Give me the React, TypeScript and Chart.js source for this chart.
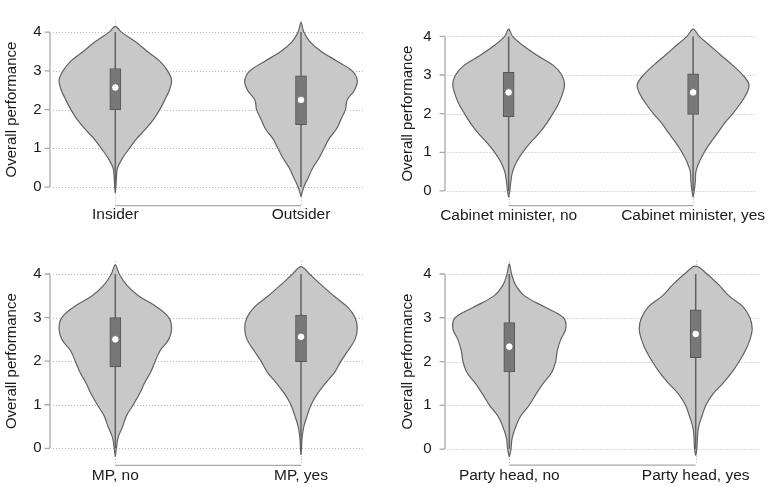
import React, { useEffect, useRef } from 'react';
import { Chart, registerables } from 'chart.js';

Chart.register(...registerables);

// ---------- data ----------
const LEVELS = [0, 0.25, 0.5, 0.75, 1, 1.25, 1.5, 1.75, 2, 2.25, 2.5, 2.75, 3, 3.25, 3.5, 3.75, 4];
const yTickValues = [0, 1, 2, 3, 4];
const Y_TITLE = 'Overall performance';

// Panel 1
const cats1 = ['Insider', 'Outsider'];
const dens1a = [1, 2, 4, 13, 25, 38, 54, 68, 79, 88, 96, 100, 93, 79, 57, 36, 11];
const dens1b = [5, 13, 21, 32, 41, 50, 63, 71, 79, 82, 95, 100, 91, 64, 36, 16, 5];
const tips1a = [-0.16, 4.15];
const tips1b = [-0.25, 4.25];
const q1_1 = [1.99, 1.61];
const med1 = [2.57, 2.25];
const q3_1 = [3.06, 2.87];

// Panel 2
const cats2 = ['Cabinet minister, no', 'Cabinet minister, yes'];
const dens2a = [2, 4, 7, 14, 25, 39, 55, 68, 79, 89, 96, 100, 95, 80, 52, 27, 7];
const dens2b = [2, 4, 5, 11, 20, 31, 44, 56, 71, 84, 95, 100, 89, 71, 51, 31, 11];
const tips2a = [-0.17, 4.19];
const tips2b = [-0.17, 4.19];
const q1_2 = [1.92, 1.98];
const med2 = [2.55, 2.55];
const q3_2 = [3.07, 3.03];

// Panel 3
const cats3 = ['MP, no', 'MP, yes'];
const dens3a = [2, 5, 13, 20, 32, 43, 52, 63, 71, 80, 95, 100, 95, 73, 41, 20, 7];
const dens3b = [1, 2, 5, 11, 18, 29, 44, 60, 71, 84, 96, 100, 96, 82, 58, 36, 15];
const tips3a = [-0.19, 4.21];
const tips3b = [-0.15, 4.17];
const q1_3 = [1.87, 1.99];
const med3 = [2.5, 2.56];
const q3_3 = [3.0, 3.06];

// Panel 4
const cats4 = ['Party head, no', 'Party head, yes'];
const dens4a = [3, 5, 11, 20, 35, 47, 60, 75, 82, 85, 91, 100, 96, 62, 27, 11, 4];
const dens4b = [2, 3, 5, 11, 18, 30, 48, 64, 77, 88, 96, 100, 96, 84, 59, 41, 20];
const tips4a = [-0.18, 4.23];
const tips4b = [-0.15, 4.18];
const q1_4 = [1.76, 2.09];
const med4 = [2.34, 2.63];
const q3_4 = [2.89, 3.18];

const whiskerLow = [0, 0];
const whiskerHigh = [4, 4];

// ---------- styles / layout ----------
const FONT = '"Liberation Sans", Arial, Helvetica, sans-serif';
const TEXT = '#1a1a1a';
const VIOLIN_FILL = '#c8c8c8';
const VIOLIN_LINE = '#626262';
const BOX_FILL = '#787878';
const BOX_LINE = '#555555';
const GRID = '#b5b5b5';
const AXIS = '#a9a9a9';
const Y_MIN = -0.3;
const Y_MAX = 4.3;
const MAX_HALF_WIDTH = 0.303; // x-units at density 100

type Panel = {
  left: number; top: number; w: number; h: number;
  y0: number; y4: number; axisX: number; gridLeft: number; gridRight: number;
  cat1: number; cat2: number; axisLineY: number; labelCY: number; tickRight: number; titleCX: number;
  cats: string[]; dens: number[][]; tips: number[][]; q1: number[]; med: number[]; q3: number[];
};

const panels: Panel[] = [
  { left: 0, top: 0, w: 385, h: 235, y0: 186, y4: 16.7, axisX: 50, gridLeft: 53, gridRight: 363,
    cat1: 115.3, cat2: 301, axisLineY: 205.7, labelCY: 215, tickRight: 41.5, titleCX: 12.3,
    cats: cats1, dens: [dens1a, dens1b], tips: [tips1a, tips1b], q1: q1_1, med: med1, q3: q3_1 },
  { left: 385, top: 0, w: 386, h: 235, y0: 189.3, y4: 13.3, axisX: 60, gridLeft: 62.5, gridRight: 375,
    cat1: 124.3, cat2: 310.7, axisLineY: 205.7, labelCY: 215.5, tickRight: 46.7, titleCX: 23,
    cats: cats2, dens: [dens2a, dens2b], tips: [tips2a, tips2b], q1: q1_2, med: med2, q3: q3_2 },
  { left: 0, top: 235, w: 385, h: 252, y0: 213.3, y4: 39, axisX: 50, gridLeft: 53, gridRight: 363,
    cat1: 115.3, cat2: 301, axisLineY: 230.3, labelCY: 240.5, tickRight: 41.5, titleCX: 12.3,
    cats: cats3, dens: [dens3a, dens3b], tips: [tips3a, tips3b], q1: q1_3, med: med3, q3: q3_3 },
  { left: 385, top: 235, w: 386, h: 252, y0: 214.3, y4: 39, axisX: 60, gridLeft: 62.5, gridRight: 375,
    cat1: 124.3, cat2: 310.7, axisLineY: 230.3, labelCY: 240.5, tickRight: 46.7, titleCX: 23,
    cats: cats4, dens: [dens4a, dens4b], tips: [tips4a, tips4b], q1: q1_4, med: med4, q3: q3_4 },
];

const stataAxes = {
  id: 'stataAxes',
  beforeDatasetsDraw(chart: any, _args: any, opts: any) {
    const { ctx, chartArea, scales } = chart;
    const x = scales.x;
    const y = scales.y;
    const axisY = chartArea.bottom + opts.axisDrop;
    ctx.save();
    ctx.lineWidth = 1;
    ctx.strokeStyle = GRID;
    ctx.setLineDash([1, 2]);
    for (const t of y.ticks) {
      const py = Math.round(y.getPixelForValue(t.value)) + 0.5;
      ctx.beginPath();
      ctx.moveTo(chartArea.left, py);
      ctx.lineTo(chartArea.right, py);
      ctx.stroke();
    }
    for (const t of x.ticks) {
      const px = Math.round(x.getPixelForValue(t.value)) + 0.5;
      ctx.beginPath();
      ctx.moveTo(px, chartArea.top);
      ctx.lineTo(px, axisY);
      ctx.stroke();
    }
    ctx.setLineDash([]);
    ctx.strokeStyle = AXIS;
    ctx.lineWidth = 1.3;
    const ax = chartArea.left - opts.axisGap;
    const vals = y.ticks.map((t: any) => t.value);
    ctx.beginPath();
    ctx.moveTo(ax, y.getPixelForValue(Math.min(...vals)));
    ctx.lineTo(ax, y.getPixelForValue(Math.max(...vals)));
    for (const v of vals) {
      const py = y.getPixelForValue(v);
      ctx.moveTo(ax - 5.5, py);
      ctx.lineTo(ax, py);
    }
    ctx.stroke();
    const xv = x.ticks.map((t: any) => t.value);
    ctx.beginPath();
    ctx.moveTo(x.getPixelForValue(Math.min(...xv)), axisY);
    ctx.lineTo(x.getPixelForValue(Math.max(...xv)), axisY);
    ctx.stroke();
    ctx.restore();
  },
};

function violinPoints(center: number, dens: number[], tips: number[]) {
  const right = LEVELS.map((lv, i) => ({ x: center + (dens[i] / 100) * MAX_HALF_WIDTH, y: lv }));
  const left = LEVELS.map((lv, i) => ({ x: center - (dens[i] / 100) * MAX_HALF_WIDTH, y: lv })).reverse();
  return [{ x: center, y: tips[0] }, ...right, { x: center, y: tips[1] }, ...left, { x: center, y: tips[0] }];
}

function ViolinPanel({ p }: { p: Panel }) {
  const ref = useRef<HTMLCanvasElement>(null);
  useEffect(() => {
    if (!ref.current) return;
    const unit = (p.y0 - p.y4) / 4;
    const chartTop = p.y4 - (Y_MAX - 4) * unit;
    const chartBottom = p.y0 - Y_MIN * unit;
    const pxPerX = p.cat2 - p.cat1;
    const xMin = 1 - (p.cat1 - p.gridLeft) / pxPerX;
    const xMax = 2 + (p.gridRight - p.cat2) / pxPerX;
    const xPad = p.labelCY - 9.3 - chartBottom;

    const datasets: any[] = [];
    p.cats.forEach((_c, i) => {
      const cx = i + 1;
      datasets.push({
        type: 'line',
        data: violinPoints(cx, p.dens[i], p.tips[i]),
        borderColor: VIOLIN_LINE,
        borderWidth: 1.2,
        backgroundColor: VIOLIN_FILL,
        fill: 'shape',
        tension: 0.35,
        pointRadius: 0,
        order: 4,
      });
      datasets.push({
        type: 'line',
        data: [{ x: cx, y: whiskerLow[i] }, { x: cx, y: whiskerHigh[i] }],
        borderColor: VIOLIN_LINE,
        borderWidth: 1.5,
        fill: false,
        pointRadius: 0,
        order: 3,
      });
    });
    datasets.push({
      type: 'bar',
      data: p.cats.map((_c, i) => ({ x: i + 1, y: [p.q1[i], p.q3[i]] })),
      backgroundColor: BOX_FILL,
      borderColor: BOX_LINE,
      borderWidth: 1,
      borderSkipped: false,
      barThickness: 11,
      order: 2,
    });
    datasets.push({
      type: 'scatter',
      data: p.cats.map((_c, i) => ({ x: i + 1, y: p.med[i] })),
      pointRadius: 3.8,
      pointBackgroundColor: '#ffffff',
      pointBorderColor: '#5a5a5a',
      pointBorderWidth: 0.8,
      order: 1,
    });

    const chart = new Chart(ref.current, {
      type: 'scatter',
      data: { datasets },
      plugins: [stataAxes],
      options: {
        animation: false,
        responsive: false,
        events: [],
        layout: { padding: { top: chartTop, right: p.w - p.gridRight, left: 0, bottom: 0 } },
        plugins: {
          legend: { display: false },
          tooltip: { enabled: false },
          stataAxes: { axisGap: p.gridLeft - p.axisX, axisDrop: p.axisLineY - chartBottom },
        } as any,
        scales: {
          x: {
            type: 'linear',
            min: xMin,
            max: xMax,
            offset: false,
            grid: { display: false, offset: false, drawTicks: false },
            border: { display: false },
            afterBuildTicks: (s: any) => { s.ticks = [{ value: 1 }, { value: 2 }]; },
            afterFit: (s: any) => { s.height = p.h - chartBottom; },
            ticks: {
              autoSkip: false,
              maxRotation: 0,
              padding: xPad,
              color: TEXT,
              font: { family: FONT, size: 15.5 },
              callback: (_v: any, idx: number) => p.cats[idx],
            },
          },
          y: {
            type: 'linear',
            min: Y_MIN,
            max: Y_MAX,
            beginAtZero: false,
            grid: { display: false, drawTicks: false },
            border: { display: false },
            afterBuildTicks: (s: any) => { s.ticks = yTickValues.map((v) => ({ value: v })); },
            afterFit: (s: any) => { s.width = p.gridLeft; },
            ticks: {
              padding: p.gridLeft - p.tickRight,
              color: TEXT,
              font: { family: FONT, size: 15 },
              callback: (v: any) => String(v),
            },
            title: {
              display: true,
              text: Y_TITLE,
              color: TEXT,
              font: { family: FONT, size: 15 },
              padding: { top: p.titleCX - 9, bottom: 0 },
            },
          },
        },
      } as any,
    });
    return () => chart.destroy();
  }, []);
  return (
    <canvas
      ref={ref}
      width={p.w}
      height={p.h}
      style={{ position: 'absolute', left: p.left, top: p.top, width: p.w, height: p.h }}
    />
  );
}

export default function App() {
  return (
    <div style={{ position: 'fixed', left: 0, top: 0, width: 771, height: 487, background: '#ffffff' }}>
      {panels.map((p, i) => (
        <ViolinPanel key={i} p={p} />
      ))}
    </div>
  );
}
